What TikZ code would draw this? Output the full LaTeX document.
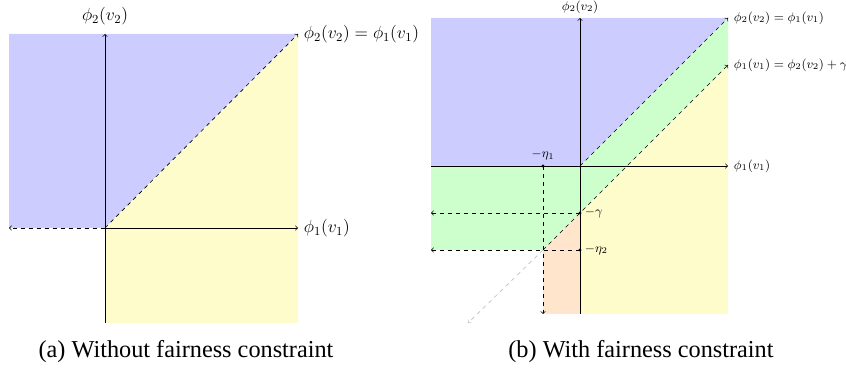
\RequirePackage{fix-cm}
\documentclass[tikz,border=0pt]{standalone}
\usepackage[no-math]{fontspec}
\newfontfamily\capfont{Liberation Serif}
\begin{document}
\begin{tikzpicture}[x=0.75pt,y=-0.75pt,
  axis/.style={draw=black,line width=0.5pt},
  dashline/.style={draw=black,line width=0.5pt,dashed},
  blueregion/.style={fill=blue!20},
  yellowregion/.style={fill=yellow!20},
  greenregion/.style={fill=green!20},
  orangeregion/.style={fill=orange!20},
  alabel/.style={font=\fontsize{13.2}{15}\selectfont,inner sep=2pt},
  blabel/.style={font=\fontsize{9.5}{11}\selectfont,inner sep=2pt},
  caption/.style={font=\capfont\fontsize{18.2}{21}\selectfont},
  dot/.style={fill=black}]
\useasboundingbox (0,0) rectangle (846,370);
% ---------- panel (a)
\coordinate (aO) at (105,228);
\coordinate (aTL) at (9,34);
\coordinate (aTR) at (298,34);
\coordinate (aT) at (105,34);
\coordinate (aL) at (9,228);
\coordinate (aR) at (298,228);
\coordinate (aB) at (105,323);
\coordinate (aBR) at (298,323);
\fill[blueregion] (aTL) -- (aTR) -- (aO) -- (aL) -- cycle;
\fill[yellowregion] (aO) -- (aTR) -- (aBR) -- (aB) -- cycle;
\draw[axis,->] (aB) -- (aT);
\draw[axis,->] (aO) -- (aR);
\draw[dashline,->] (aO) -- (aL);
\draw[dashline,->] (aO) -- (aTR);
\node[alabel,anchor=south] (aYl) at (105,28) {$\phi_2(v_2)$};
\node[alabel,anchor=west] (aDl) at (301,34) {$\phi_2(v_2)=\phi_1(v_1)$};
\node[alabel,anchor=west] (aXl) at (301,228) {$\phi_1(v_1)$};
\node[caption] (acap) at (186,352) {(a) Without fairness constraint};
% ---------- panel (b)
\coordinate (bO) at (580,166);
\coordinate (bTL) at (431,18);
\coordinate (bTR) at (728,18);
\coordinate (bT) at (580,18);
\coordinate (bL) at (431,166);
\coordinate (bR) at (728,166);
\coordinate (bB) at (580,314);
\coordinate (bBR) at (728,314);
\coordinate (bG) at (580,213);
\coordinate (bE2) at (580,250);
\coordinate (bE1) at (543,166);
\coordinate (bP) at (543,250);
\coordinate (bPB) at (543,314);
\coordinate (bLR) at (728,65);
\coordinate (bGL) at (431,213);
\coordinate (bEL) at (431,250);
\coordinate (bGray) at (468,323);
\fill[blueregion] (bTL) -- (bTR) -- (bO) -- (bL) -- cycle;
\fill[greenregion] (bL) -- (bO) -- (bTR) -- (bLR) -- (bP) -- (bEL) -- cycle;
\fill[yellowregion] (bG) -- (bLR) -- (bBR) -- (bB) -- cycle;
\fill[orangeregion] (bP) -- (bG) -- (bB) -- (bPB) -- cycle;
\draw[axis,->] (bB) -- (bT);
\draw[axis,->] (bL) -- (bR);
\draw[dashline,->] (bO) -- (bTR);
\draw[dashline,->] (bP) -- (bLR);
\draw[dashline,draw=gray!50,->] (bP) -- (bGray);
\draw[dashline,->] (bE1) -- (bPB);
\draw[dashline,->] (bG) -- (bGL);
\draw[dashline,->] (bE2) -- (bEL);
\fill[dot] (bE1) circle[radius=1.2pt];
\fill[dot] (bG) circle[radius=1.2pt];
\fill[dot] (bE2) circle[radius=1.2pt];
\node[blabel,anchor=south,inner sep=0.5pt] (bYl) at (580,14.5) {$\phi_2(v_2)$};
\node[blabel,anchor=west] (bDl) at (731,18) {$\phi_2(v_2)=\phi_1(v_1)$};
\node[blabel,anchor=west] (bD2l) at (731,65) {$\phi_1(v_1)=\phi_2(v_2)+\gamma$};
\node[blabel,anchor=west] (bXl) at (731,166) {$\phi_1(v_1)$};
\node[blabel,anchor=south] (be1l) at (543,163) {$-\eta_1$};
\node[blabel,anchor=west] (bgl) at (582,213) {$-\gamma$};
\node[blabel,anchor=west] (be2l) at (582,250) {$-\eta_2$};
\node[caption] (bcap) at (641,352) {(b) With fairness constraint};
\end{tikzpicture}
\end{document}
